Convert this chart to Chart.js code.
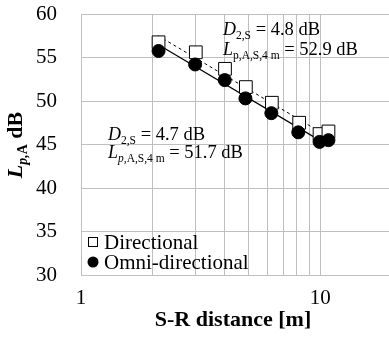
<!DOCTYPE html>
<html>
<head>
<meta charset="utf-8">
<script src="https://cdn.jsdelivr.net/npm/chart.js@4"></script>
<style>
  html, body { margin: 0; padding: 0; background: #fff; }
  #wrap { width: 389px; height: 337px; position: relative; }
</style>
</head>
<body>
<div id="wrap"><canvas id="chart"></canvas></div>
<script>
// S-R distance [m] and levels
const distDir = [2.11, 3.02, 4.0, 4.89, 6.28, 8.17, 9.94, 10.83];
const levelDir = [56.75, 55.6, 53.7, 51.6, 49.8, 47.5, 46.2, 46.5];
const distOmni = [2.11, 3.0, 3.99, 4.87, 6.25, 8.1, 9.94, 10.83];
const levelOmni = [55.75, 54.2, 52.4, 50.3, 48.6, 46.4, 45.3, 45.5];

// regression line ends
const trendDirX = [2.1, 10.8];
const trendDirY = [57.5, 45.9];
const trendOmniX = [2.1, 10.8];
const trendOmniY = [56.5, 44.9];

const xLabels = [1, 10];
const yTicks = [30, 35, 40, 45, 50, 55, 60];

const SERIF = '"Liberation Serif", "Times New Roman", serif';
const GRID = '#bfbfbf';

const pts = (xs, ys) => xs.map((x, i) => ({ x, y: ys[i] }));

// draws text made of runs: [text, size, style, dy]
function drawRuns(ctx, runs, x, y) {
  let cx = x;
  runs.forEach(([t, size, style, dy]) => {
    ctx.font = `${style || ''} ${size}px ${SERIF}`;
    ctx.fillText(t, cx, y + (dy || 0));
    cx += ctx.measureText(t).width;
  });
  return cx - x;
}
function runsWidth(ctx, runs) {
  let w = 0;
  runs.forEach(([t, size, style]) => {
    ctx.font = `${style || ''} ${size}px ${SERIF}`;
    w += ctx.measureText(t).width;
  });
  return w;
}

const extras = {
  id: 'extras',
  afterDraw(chart) {
    const { ctx, chartArea: a } = chart;
    ctx.save();
    ctx.fillStyle = '#000';
    ctx.textBaseline = 'alphabetic';
    ctx.textAlign = 'left';

    // annotations
    drawRuns(ctx, [['D', 18, 'italic'], ['2,S', 11.5, '', 4], [' = 4.8 dB', 18.5]], a.left + 142, 35);
    drawRuns(ctx, [['L', 18, 'italic'], ['p,A,S,4 m', 11.5, '', 4], [' = 52.9 dB', 18.5]], a.left + 142, 55);
    drawRuns(ctx, [['D', 18, 'italic'], ['2,S', 11.5, '', 4], [' = 4.7 dB', 18.5]], a.left + 27, 140);
    drawRuns(ctx, [['L', 18, 'italic'], ['p,', 11.5, 'italic', 4], ['A,S,4 m', 11.5, '', 4], [' = 51.7 dB', 18.5]], a.left + 27, 158);

    // legend inside plot
    ctx.textBaseline = 'middle';
    ctx.font = `21px ${SERIF}`;
    ctx.strokeStyle = '#000';
    ctx.lineWidth = 1;
    ctx.fillStyle = '#fff';
    ctx.fillRect(88.5, 237.5, 9, 9);
    ctx.strokeRect(88.5, 237.5, 9, 9);
    ctx.fillStyle = '#000';
    ctx.beginPath();
    ctx.arc(93, 262, 5.5, 0, Math.PI * 2);
    ctx.fill();
    ctx.fillText('Directional', 104, 243);
    ctx.fillText('Omni-directional', 104, 263);

    // x title
    ctx.textAlign = 'center';
    ctx.font = `bold 22px ${SERIF}`;
    ctx.fillText('S-R distance [m]', 233, 320);

    // y title
    ctx.textAlign = 'left';
    ctx.textBaseline = 'alphabetic';
    const yRuns = [['L', 22, 'bold italic'], ['p,', 14, 'bold italic', 5], ['A', 14, 'bold', 5], [' dB', 22, 'bold']];
    ctx.translate(22, 145);
    ctx.rotate(-Math.PI / 2);
    drawRuns(ctx, yRuns, -runsWidth(ctx, yRuns) / 2, 0);
    ctx.restore();
  }
};

new Chart(document.getElementById('chart'), {
  type: 'scatter',
  data: {
    datasets: [
      {
        label: 'Omni-directional',
        data: pts(distOmni, levelOmni),
        pointStyle: 'circle',
        pointRadius: 6.5,
        pointBackgroundColor: '#000',
        pointBorderColor: '#000',
        order: 0
      },
      {
        label: 'Directional',
        data: pts(distDir, levelDir),
        pointStyle: 'rect',
        pointRadius: 9,
        pointBackgroundColor: '#fff',
        pointBorderColor: '#000',
        pointBorderWidth: 1,
        order: 1
      },
      {
        label: 'trend dir',
        data: pts(trendDirX, trendDirY),
        showLine: true,
        borderColor: '#000',
        borderWidth: 1,
        borderDash: [3, 3],
        pointRadius: 0,
        order: 2
      },
      {
        label: 'trend omni',
        data: pts(trendOmniX, trendOmniY),
        showLine: true,
        borderColor: '#000',
        borderWidth: 1.2,
        pointRadius: 0,
        order: 3
      }
    ]
  },
  options: {
    responsive: true,
    maintainAspectRatio: false,
    animation: false,
    layout: { autoPadding: false, padding: { top: 14, right: 0, left: 0, bottom: 0 } },
    plugins: { legend: { display: false }, tooltip: { enabled: false } },
    scales: {
      x: {
        type: 'logarithmic',
        min: 1,
        max: 19.4,
        grid: {
          color: c => (c.tick && c.tick.value > 10 ? 'rgba(0,0,0,0)' : GRID),
          drawTicks: false
        },
        border: { color: GRID },
        ticks: {
          autoSkip: false,
          maxRotation: 0,
          padding: 11,
          color: '#000',
          font: { family: SERIF, size: 21 },
          callback: v => (xLabels.includes(v) ? String(v) : '')
        },
        afterFit: s => { s.height = 62; s.paddingLeft = 0; s.paddingRight = 0; }
      },
      y: {
        min: 30,
        max: 60,
        afterBuildTicks: s => { s.ticks = yTicks.map(v => ({ value: v })); },
        grid: { color: GRID, drawTicks: false },
        border: { color: GRID },
        ticks: {
          padding: 24,
          color: '#000',
          font: { family: SERIF, size: 21 }
        },
        afterFit: s => { s.width = 81; s.paddingTop = 0; s.paddingBottom = 0; }
      }
    }
  },
  plugins: [extras]
});
</script>
</body>
</html>
